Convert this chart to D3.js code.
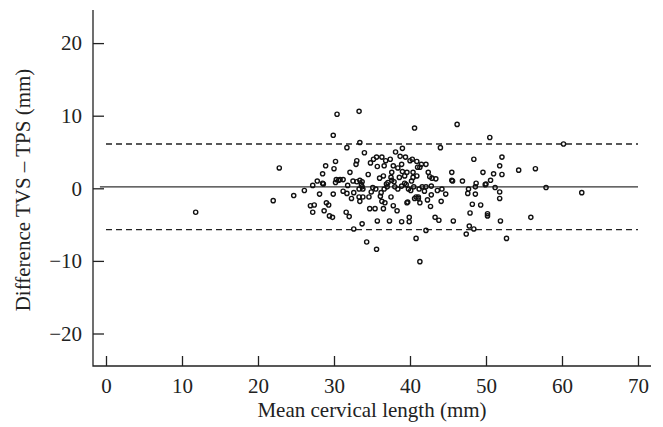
<!DOCTYPE html>
<html>
<head>
<meta charset="utf-8">
<script src="https://cdn.jsdelivr.net/npm/d3@7"></script>
<style>
  body { margin: 0; background: #fff; }
  svg text { font-family: "Liberation Serif", "DejaVu Serif", serif; fill: #222; }
</style>
</head>
<body>
<div id="chart"></div>
<script>
// mean of the two measurements (mm)
const meanLength = [
  11.8, 22.0, 22.8, 24.7, 26.1, 27.2, 27.8, 28.5, 28.6, 28.1,
  28.5, 28.9, 29.9, 30.4, 30.2, 30.0, 30.2, 30.3, 29.9, 26.9,
  27.4, 27.2, 29.0, 29.3, 28.7, 29.4, 29.8, 33.3, 33.4, 40.6,
  46.2, 50.5, 31.7, 34.0, 44.0, 38.1, 39.0, 33.0, 32.9, 32.1,
  34.8, 35.2, 35.6, 36.3, 36.8, 37.4, 35.7, 36.6, 37.8, 38.7,
  39.4, 38.9, 38.4, 40.3, 40.0, 40.9, 41.5, 42.1, 41.0, 41.3,
  40.4, 39.6, 37.6, 39.0, 34.5, 36.0, 36.5, 37.5, 38.6, 39.3,
  40.4, 40.9, 42.4, 42.6, 42.9, 43.4, 45.5, 45.5, 45.6, 46.9,
  48.4, 49.6, 49.9, 48.7, 48.6, 47.7, 48.6, 50.6, 30.8, 31.2,
  30.6, 32.5, 33.0, 33.4, 33.7, 31.8, 33.3, 33.7, 33.8, 35.1,
  35.5, 36.6, 37.0, 37.1, 37.6, 38.0, 38.4, 38.9, 39.3, 39.8,
  40.1, 40.5, 41.2, 41.6, 42.1, 42.8, 43.6, 44.2, 44.7, 42.8,
  41.1, 40.8, 37.5, 31.2, 31.7, 32.6, 32.3, 33.8, 34.6, 33.3,
  33.4, 36.1, 36.3, 36.7, 34.7, 35.4, 36.5, 37.8, 38.3, 39.6,
  39.7, 40.6, 41.1, 41.3, 42.3, 42.7, 44.1, 43.3, 43.8, 45.7,
  47.6, 48.2, 49.3, 47.9, 47.8, 47.4, 48.4, 31.6, 32.0, 33.7,
  32.6, 35.7, 37.3, 38.9, 39.9, 39.9, 42.1, 40.8, 34.3, 35.6,
  41.3, 60.2, 52.1, 51.8, 51.0, 52.1, 54.3, 56.5, 50.0, 51.2,
  51.8, 57.9, 62.6, 51.8, 50.2, 50.2, 51.9, 55.9, 52.7,
  33.6, 36.9, 37.9, 39.5, 40.2, 34.9, 36.2, 41.9
];
// difference TVS - TPS (mm)
const difference = [
  -3.3, -1.7, 2.8, -1.0, -0.3, 0.4, 1.0, 0.7, 0.6, -0.8,
  2.0, 3.1, 7.3, 10.2, 3.7, 2.7, 0.8, 1.2, -0.8, -2.4,
  -2.3, -3.3, -2.0, -2.3, -3.1, -3.8, -4.0, 10.6, 6.3, 8.3,
  8.8, 7.0, 5.6, 4.9, 5.6, 5.0, 5.5, 3.8, 3.3, 2.2,
  3.5, 4.0, 4.3, 4.3, 3.8, 4.0, 3.0, 3.1, 3.1, 4.4,
  4.3, 3.3, 2.8, 4.0, 3.8, 3.7, 3.3, 3.3, 2.9, 2.9,
  2.2, 2.2, 2.2, 2.3, 1.9, 1.4, 1.7, 1.5, 1.5, 1.7,
  1.5, 1.7, 2.2, 1.6, 1.4, 1.3, 2.2, 1.1, 1.0, 1.0,
  4.0, 2.2, 0.5, 0.7, 0.2, -0.1, -0.8, 1.1, 1.2, 1.2,
  1.1, 1.0, 0.9, 1.1, 0.9, 0.4, -0.1, 0.2, -0.1, 0.1,
  -0.1, -0.1, 0.2, 0.8, 1.1, 0.2, -0.1, 0.3, 0.7, -0.1,
  -0.3, 0.2, -0.1, 0.2, 0.2, 0.3, -0.3, -0.1, -0.8, -0.9,
  -1.2, -1.2, -1.2, -0.4, -0.7, -0.6, -1.4, -1.2, -1.2, -1.2,
  -1.8, -1.1, -1.8, -2.0, -2.8, -2.8, -2.8, -2.4, -3.1, -2.0,
  -1.9, -1.4, -1.4, -2.0, -1.6, -2.5, -1.8, -4.0, -4.4, -4.5,
  -0.7, -2.2, -2.3, -3.4, -5.2, -6.3, -5.6, -3.3, -3.9, -4.9,
  -5.6, -4.5, -4.5, -4.6, -4.0, -4.6, -5.8, -6.9, -7.4, -8.4,
  -10.1, 6.1, 4.3, 3.1, 2.0, 1.9, 2.5, 2.7, 0.6, 0.1,
  -0.5, 0.1, -0.6, -1.4, -3.5, -3.8, -4.5, -4.0, -6.9,
  0.5, 0.6, 0.9, 0.5, 1.0, -0.5, -0.6, -0.4
];

const meanDiff = 0.2;
const limits = [6.1, -5.7];
const xTicks = [0, 10, 20, 30, 40, 50, 60, 70];
const yTicks = [-20, -10, 0, 10, 20];

const W = 663, H = 427;
const svg = d3.select('#chart').append('svg')
  .attr('width', W)
  .attr('height', H);

const x = d3.scaleLinear().domain([0, 70]).range([106, 638]);
const y = d3.scaleLinear().domain([-10, 10]).range([260.9, 115.7]);

const axisX = 93, axisY = 366;

// axes
svg.append('g')
  .attr('transform', `translate(0,${axisY})`)
  .call(d3.axisBottom(x).tickValues(xTicks).tickSizeInner(-10).tickSizeOuter(0).tickPadding(10))
  .call(g => g.select('.domain').remove())
  .call(g => g.selectAll('line').attr('stroke', '#222').attr('stroke-width', 1.3))
  .call(g => g.selectAll('text').attr('font-size', 21).attr('dy', '0.8em'));

svg.append('g')
  .attr('transform', `translate(${axisX},0)`)
  .call(d3.axisLeft(y).tickValues(yTicks).tickSizeInner(-11).tickSizeOuter(0).tickPadding(11)
    .tickFormat(d => d < 0 ? '\u2212' + Math.abs(d) : d))
  .call(g => g.select('.domain').remove())
  .call(g => g.selectAll('line').attr('stroke', '#222').attr('stroke-width', 1.3))
  .call(g => g.selectAll('text').attr('font-size', 21));

svg.append('path')
  .attr('d', `M${axisX},10V${axisY}H651`)
  .attr('fill', 'none')
  .attr('stroke', '#222')
  .attr('stroke-width', 1.3);

// mean and limits of agreement
svg.append('line')
  .attr('x1', x(-0.8)).attr('x2', x(70))
  .attr('y1', y(meanDiff)).attr('y2', y(meanDiff))
  .attr('stroke', '#333').attr('stroke-width', 1.4);

svg.selectAll('line.loa')
  .data(limits)
  .join('line')
  .attr('class', 'loa')
  .attr('x1', x(0)).attr('x2', x(70))
  .attr('y1', d => y(d)).attr('y2', d => y(d))
  .attr('stroke', '#222').attr('stroke-width', 1.3)
  .attr('stroke-dasharray', '6,4');

// points
svg.append('g')
  .selectAll('circle')
  .data(meanLength)
  .join('circle')
  .attr('cx', d => x(d))
  .attr('cy', (d, i) => y(difference[i]))
  .attr('r', 2.1)
  .attr('fill', 'none')
  .attr('stroke', '#111')
  .attr('stroke-width', 1.4);

// labels
svg.append('text')
  .attr('x', 372)
  .attr('y', 417)
  .attr('text-anchor', 'middle')
  .attr('font-size', 21)
  .text('Mean cervical length (mm)');

svg.append('text')
  .attr('transform', 'translate(30,190) rotate(-90)')
  .attr('text-anchor', 'middle')
  .attr('font-size', 21)
  .text('Difference TVS \u2013 TPS (mm)');
</script>
</body>
</html>
